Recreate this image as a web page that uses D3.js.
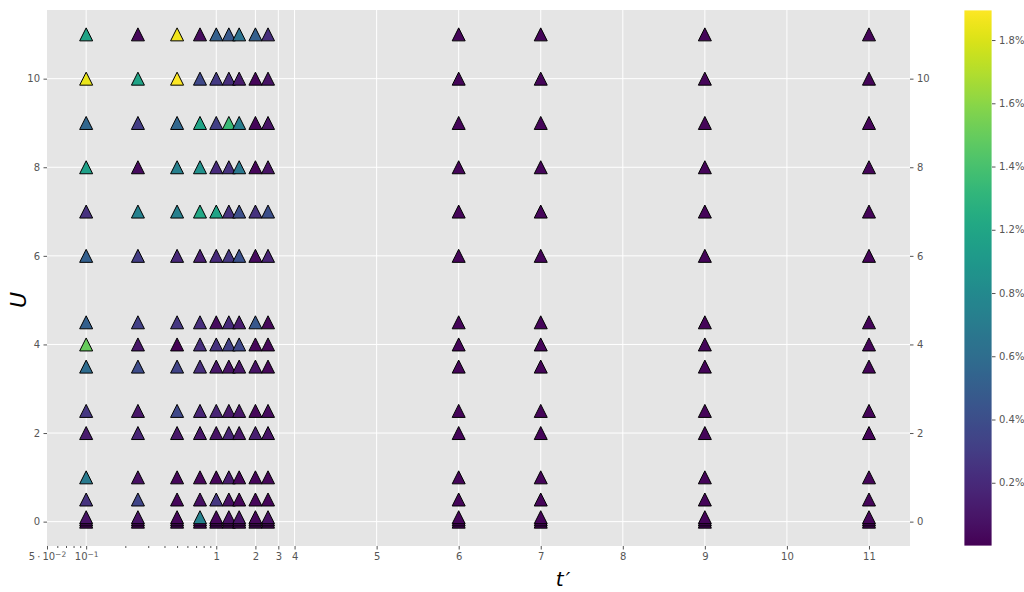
<!DOCTYPE html>
<html>
<head>
<meta charset="utf-8">
<script src="https://cdn.jsdelivr.net/npm/d3@7"></script>
<style>
  body { margin: 0; background: #fff; }
  svg { font-family: "DejaVu Sans", sans-serif; }
  .tick text { fill: #555; font-size: 10px; font-family: "DejaVu Sans", sans-serif; }
  .tick line { stroke: #555; }
  .domain { display: none; }
</style>
</head>
<body>
<svg width="1024" height="592"></svg>
<script>
// t' columns (small ones get the log part of the axis)
const tSmall = [0.1, 0.25, 0.5, 0.75, 1, 1.25, 1.5, 2, 2.5];
const tLarge = [6, 7, 9, 11];
const uValues = [0, 0.05, 0.1, 0.5, 1, 2, 2.5, 3.5, 4, 4.5, 6, 7, 8, 9, 10, 11];

// error in %, one row per U, one entry per tSmall
const errSmall = [
  [0.03, 0.03, 0.03, 0.03, 0.03, 0.03, 0.03, 0.03, 0.03],
  [0.03, 0.03, 0.03, 0.03, 0.03, 0.03, 0.03, 0.03, 0.03],
  [0.08, 0.08, 0.03, 0.74, 0.03, 0.07, 0.08, 0.03, 0.07],
  [0.25, 0.35, 0.03, 0.07, 0.27, 0.07, 0.03, 0.03, 0.02],
  [0.69, 0.07, 0.03, 0.03, 0.03, 0.12, 0.03, 0.02, 0.03],
  [0.12, 0.17, 0.10, 0.10, 0.08, 0.17, 0.10, 0.14, 0.08],
  [0.27, 0.10, 0.37, 0.17, 0.17, 0.10, 0.10, 0.03, 0.05],
  [0.59, 0.39, 0.34, 0.22, 0.10, 0.08, 0.10, 0.08, 0.03],
  [1.30, 0.10, 0.00, 0.22, 0.24, 0.32, 0.37, 0.03, 0.03],
  [0.51, 0.32, 0.27, 0.22, 0.05, 0.20, 0.12, 0.46, 0.03],
  [0.51, 0.30, 0.19, 0.14, 0.20, 0.27, 0.42, 0.05, 0.17],
  [0.24, 0.74, 0.73, 1.01, 0.98, 0.24, 0.41, 0.24, 0.41],
  [0.96, 0.05, 0.73, 0.85, 0.20, 0.24, 0.68, 0.02, 0.08],
  [0.56, 0.30, 0.56, 0.98, 0.32, 1.15, 0.71, 0.02, 0.08],
  [1.64, 0.98, 1.69, 0.37, 0.29, 0.22, 0.12, 0.02, 0.08],
  [0.98, 0.03, 1.66, 0.05, 0.51, 0.47, 0.64, 0.51, 0.22]
];
// error in %, one row per U, one entry per tLarge
const errLarge = [
  [0.02, 0.02, 0.02, 0.02], [0.02, 0.02, 0.02, 0.02], [0.02, 0.02, 0.02, 0.02],
  [0.02, 0.02, 0.02, 0.02], [0.02, 0.02, 0.02, 0.02], [0.02, 0.02, 0.02, 0.02],
  [0.02, 0.02, 0.02, 0.02], [0.02, 0.02, 0.02, 0.02], [0.02, 0.02, 0.02, 0.02],
  [0.02, 0.02, 0.02, 0.02], [0.02, 0.02, 0.02, 0.02], [0.02, 0.02, 0.02, 0.02],
  [0.02, 0.02, 0.02, 0.02], [0.02, 0.02, 0.02, 0.02], [0.02, 0.02, 0.02, 0.02],
  [0.02, 0.02, 0.02, 0.02]
];

const uTicks = [0, 2, 4, 6, 8, 10];
const xLogTicks = [0.05, 0.1, 1, 2, 3, 4];
const xLogMinor = [0.06, 0.07, 0.08, 0.09, 0.2, 0.3, 0.4, 0.5, 0.6, 0.7, 0.8, 0.9];
const xLinTicks = [5, 6, 7, 8, 9, 10, 11];
const cbTicks = [0.2, 0.4, 0.6, 0.8, 1.0, 1.2, 1.4, 1.6];
const cbLabels = ["0.2%", "0.4%", "0.6%", "0.8%", "1.2%", "1.4%", "1.6%", "1.8%"];
const cbMax = 1.695;

let svg = d3.select("svg");
let pLeft = 47, pRight = 910, pTop = 10, pBottom = 546;

// log part up to 4, linear after that
let logPx = 130 * Math.log10(4 / 0.05), linPx = 82 * 7.5;
let split = pLeft + (pRight - pLeft) * logPx / (logPx + linPx);
let xLog = d3.scaleLog().domain([0.05, 4]).range([pLeft, split]);
let xLin = d3.scaleLinear().domain([4, 11.5]).range([split, pRight]);
let x = v => v <= 4 ? xLog(v) : xLin(v);

let y = d3.scaleLinear().domain([-0.55, 11.55]).range([pBottom, pTop]);
let color = d3.scaleSequential(d3.interpolateViridis).domain([0, cbMax]);

svg.append("rect")
    .attr("x", pLeft).attr("y", pTop)
    .attr("width", pRight - pLeft).attr("height", pBottom - pTop)
    .attr("fill", "#e5e5e5");

// grid
let grid = svg.append("g").attr("stroke", "#fff").attr("stroke-width", 1);
grid.selectAll(".gy").data(uTicks).enter().append("line")
    .attr("x1", pLeft).attr("x2", pRight)
    .attr("y1", d => y(d)).attr("y2", d => y(d));
grid.selectAll(".gx").data(xLogTicks.slice(1).concat(xLinTicks)).enter().append("line")
    .attr("y1", pTop).attr("y2", pBottom)
    .attr("x1", d => x(d)).attr("x2", d => x(d));

// x axes
let fmtLog = (g) => {
    g.selectAll(".tick text").each(function(d) {
        let t = d3.select(this).text("");
        if (d === 0.05) {
            t.append("tspan").text("5\u2009\u00b7\u200910");
            t.append("tspan").attr("dy", "-0.45em").attr("font-size", "7.5px").text("\u22122");
        } else if (d === 0.1) {
            t.append("tspan").text("10");
            t.append("tspan").attr("dy", "-0.45em").attr("font-size", "7.5px").text("\u22121");
        } else {
            t.text(d);
        }
    });
};
svg.append("g")
    .attr("transform", "translate(0," + pBottom + ")")
    .call(d3.axisBottom(xLog).tickValues(xLogTicks).tickSizeInner(3.5).tickSizeOuter(0).tickPadding(3.5))
    .call(fmtLog);
svg.append("g")
    .attr("transform", "translate(0," + pBottom + ")")
    .call(d3.axisBottom(xLog).tickValues(xLogMinor).tickSizeInner(2).tickSizeOuter(0).tickFormat(""));
svg.append("g")
    .attr("transform", "translate(0," + pBottom + ")")
    .call(d3.axisBottom(xLin).tickValues(xLinTicks).tickSizeInner(3.5).tickSizeOuter(0).tickPadding(3.5));

// y axes, left and right
svg.append("g")
    .attr("transform", "translate(" + pLeft + ",0)")
    .call(d3.axisLeft(y).tickValues(uTicks).tickSizeInner(3.5).tickSizeOuter(0).tickPadding(3.5));
svg.append("g")
    .attr("transform", "translate(" + pRight + ",0)")
    .call(d3.axisRight(y).tickValues(uTicks).tickSizeInner(3.5).tickSizeOuter(0).tickPadding(3.5));

// points, drawn by t' then U so later ones sit on top
let tri = {
    draw(ctx, size) {
        let h = Math.sqrt(size) / 2;
        ctx.moveTo(0, -h);
        ctx.lineTo(h, h);
        ctx.lineTo(-h, h);
        ctx.closePath();
    }
};
let points = [];
tSmall.forEach((t, j) => uValues.forEach((u, i) => points.push({t: t, u: u, e: errSmall[i][j]})));
tLarge.forEach((t, j) => uValues.forEach((u, i) => points.push({t: t, u: u, e: errLarge[i][j]})));

svg.append("g")
    .selectAll("path")
    .data(points)
    .enter()
    .append("path")
        .attr("d", d3.symbol(tri, 13 * 13))
        .attr("transform", d => "translate(" + x(d.t) + "," + y(d.u) + ")")
        .attr("fill", d => color(d.e))
        .attr("stroke", "#000")
        .attr("stroke-width", 1);

// axis labels
let xl = svg.append("text")
    .attr("x", 563).attr("y", 586)
    .attr("text-anchor", "middle")
    .attr("font-size", "20px").attr("font-style", "italic");
xl.append("tspan").text("t");
xl.append("tspan").attr("dx", 2).text("\u2032");
svg.append("text")
    .attr("transform", "translate(26,300) rotate(-90)")
    .attr("text-anchor", "middle")
    .attr("font-size", "22px").attr("font-style", "italic")
    .text("U");

// colorbar
let cbX = 964, cbW = 28;
let cb = d3.scaleLinear().domain([0, cbMax]).range([pBottom, pTop]);
let grad = svg.append("defs").append("linearGradient")
    .attr("id", "cbgrad").attr("x1", 0).attr("y1", 1).attr("x2", 0).attr("y2", 0);
grad.selectAll("stop").data(d3.range(0, 1.0001, 0.02)).enter().append("stop")
    .attr("offset", d => d)
    .attr("stop-color", d => d3.interpolateViridis(d));
svg.append("rect")
    .attr("x", cbX).attr("y", pTop).attr("width", cbW).attr("height", pBottom - pTop)
    .attr("fill", "url(#cbgrad)")
    .attr("stroke", "#fff").attr("stroke-width", 0.8);
svg.append("g")
    .attr("transform", "translate(" + (cbX + cbW) + ",0)")
    .call(d3.axisRight(cb).tickValues(cbTicks).tickSizeInner(3.5).tickSizeOuter(0).tickPadding(3.5)
        .tickFormat((d, i) => cbLabels[i]));
</script>
</body>
</html>
